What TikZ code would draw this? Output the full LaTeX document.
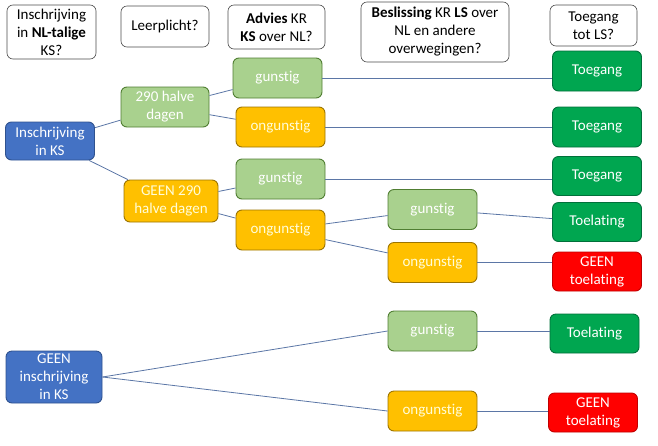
\documentclass[tikz,border=0pt]{standalone}
\usepackage{fontspec}
\setmainfont{Carlito}[Ligatures={NoCommon}]
\usepackage{tikz}
\usetikzlibrary{positioning}
\definecolor{kblue}{HTML}{4472C4}
\definecolor{kblueline}{HTML}{2F528F}
\definecolor{klgreen}{HTML}{A9D18E}
\definecolor{klgreenline}{HTML}{507E32}
\definecolor{korange}{HTML}{FFC000}
\definecolor{korangeline}{HTML}{9C7400}
\definecolor{kgreen}{HTML}{00A650}
\definecolor{kgreenline}{HTML}{00703A}
\definecolor{kred}{HTML}{FF0000}
\definecolor{kredline}{HTML}{C00000}
\definecolor{klink}{HTML}{5B76A6}
\tikzstyle{kbox} = [rounded corners=6pt, line width=0.9pt, align=center, inner sep=1pt,
                   font=\fontsize{15}{18}\selectfont]
\tikzstyle{question} = [kbox, draw=black!70, fill=white, text=black, line width=0.6pt]
\tikzstyle{enrol} = [kbox, draw=kblueline, fill=kblue, text=white, minimum width=89pt, minimum height=38pt]
\tikzstyle{goodbox} = [kbox, draw=klgreenline, fill=klgreen, text=white, minimum width=89pt, minimum height=40pt]
\tikzstyle{badbox} = [kbox, draw=korangeline, fill=korange, text=white!85!yellow, minimum width=89pt, minimum height=40pt]
\tikzstyle{accessbox} = [kbox, draw=kgreenline, fill=kgreen, text=white, minimum width=89pt, minimum height=39pt]
\tikzstyle{refusebox} = [kbox, draw=kredline, fill=kred, text=white, minimum width=89pt, minimum height=39pt]
\tikzstyle{link} = [draw=klink, line width=0.8pt]

\begin{document}
\begin{tikzpicture}[x=1pt, y=-1pt]
				\useasboundingbox (0, 0) rectangle (658, 445);

				% column headers
				\node (QEnrol) [question, minimum width=89pt, minimum height=54pt] at (51.5, 32) {Inschrijving\\in \textbf{NL-talige}\\KS?};
				\node (QDuty) [question, minimum width=88pt, minimum height=41pt] at (165, 26.5) {Leerplicht?};
				\node (QAdvice) [question, minimum width=97pt, minimum height=44pt] at (276.5, 27) {\textbf{Advies} KR\\\textbf{KS} over NL?};
				\node (QDecision) [question, minimum width=148pt, minimum height=60pt] at (435, 32) {\textbf{Beslissing} KR \textbf{LS} over\\NL en andere\\overwegingen?};
				\node (QAccess) [question, minimum width=87pt, minimum height=41pt] at (593.5, 25.5) {Toegang\\tot LS?};

				% enrolled in KS
				\node (Enrol) [enrol] at (50, 141) {Inschrijving\\in KS};

				\node (Days) [goodbox, minimum width=88pt] at (165, 107) {290 halve\\dagen};
				\node (NoDays) [badbox, minimum width=94pt, minimum height=42pt] at (171, 201) {GEEN 290\\halve dagen};
				\draw [link] (Enrol) -- (Days);
				\draw [link] (Enrol) -- (NoDays);

				\node (DaysPos) [goodbox] at (277.5, 78) {gunstig};
				\node (DaysNeg) [badbox] at (280.5, 127) {ongunstig};
				\draw [link] (Days) -- (DaysPos);
				\draw [link] (Days) -- (DaysNeg);

				\node (NoDaysPos) [goodbox] at (280.5, 179) {gunstig};
				\node (NoDaysNeg) [badbox] at (280.5, 230) {ongunstig};
				\draw [link] (NoDays) -- (NoDaysPos);
				\draw [link] (NoDays) -- (NoDaysNeg);

				\node (LsPos) [goodbox] at (432.5, 209.5) {gunstig};
				\node (LsNeg) [badbox] at (432.5, 262.5) {ongunstig};
				\draw [link] (NoDaysNeg) -- (LsPos);
				\draw [link] (NoDaysNeg) -- (LsNeg);

				\node (Access1) [accessbox, minimum height=40pt] at (597, 71) {Toegang};
				\node (Access2) [accessbox, minimum height=40pt] at (597, 127) {Toegang};
				\node (Access3) [accessbox] at (597, 176) {Toegang};
				\node (Admit1) [accessbox] at (597, 222) {Toelating};
				\node (Refuse1) [refusebox] at (597, 271.5) {GEEN\\toelating};
				\draw [link] (DaysPos) -- (DaysPos -| Access1.west);
				\draw [link] (DaysNeg) -- (Access2);
				\draw [link] (NoDaysPos) -- (NoDaysPos -| Access3.west);
				\draw [link] (LsPos) -- (Admit1);
				\draw [link] (LsNeg) -- (LsNeg -| Refuse1.west);

				% not enrolled in KS
				\node (NoEnrol) [enrol, minimum width=96pt, minimum height=52pt] at (54, 377) {GEEN\\inschrijving\\in KS};

				\node (OutPos) [goodbox] at (432.5, 331) {gunstig};
				\node (OutNeg) [badbox] at (432.5, 411) {ongunstig};
				\draw [link] (NoEnrol.east) -- (OutPos.west);
				\draw [link] (NoEnrol.east) -- (OutNeg.west);

				\node (Admit2) [accessbox] at (594.5, 333.5) {Toelating};
				\node (Refuse2) [refusebox] at (593, 412.5) {GEEN\\toelating};
				\draw [link] (OutPos) -- (OutPos -| Admit2.west);
				\draw [link] (OutNeg) -- (OutNeg -| Refuse2.west);
			\end{tikzpicture}
\end{document}
